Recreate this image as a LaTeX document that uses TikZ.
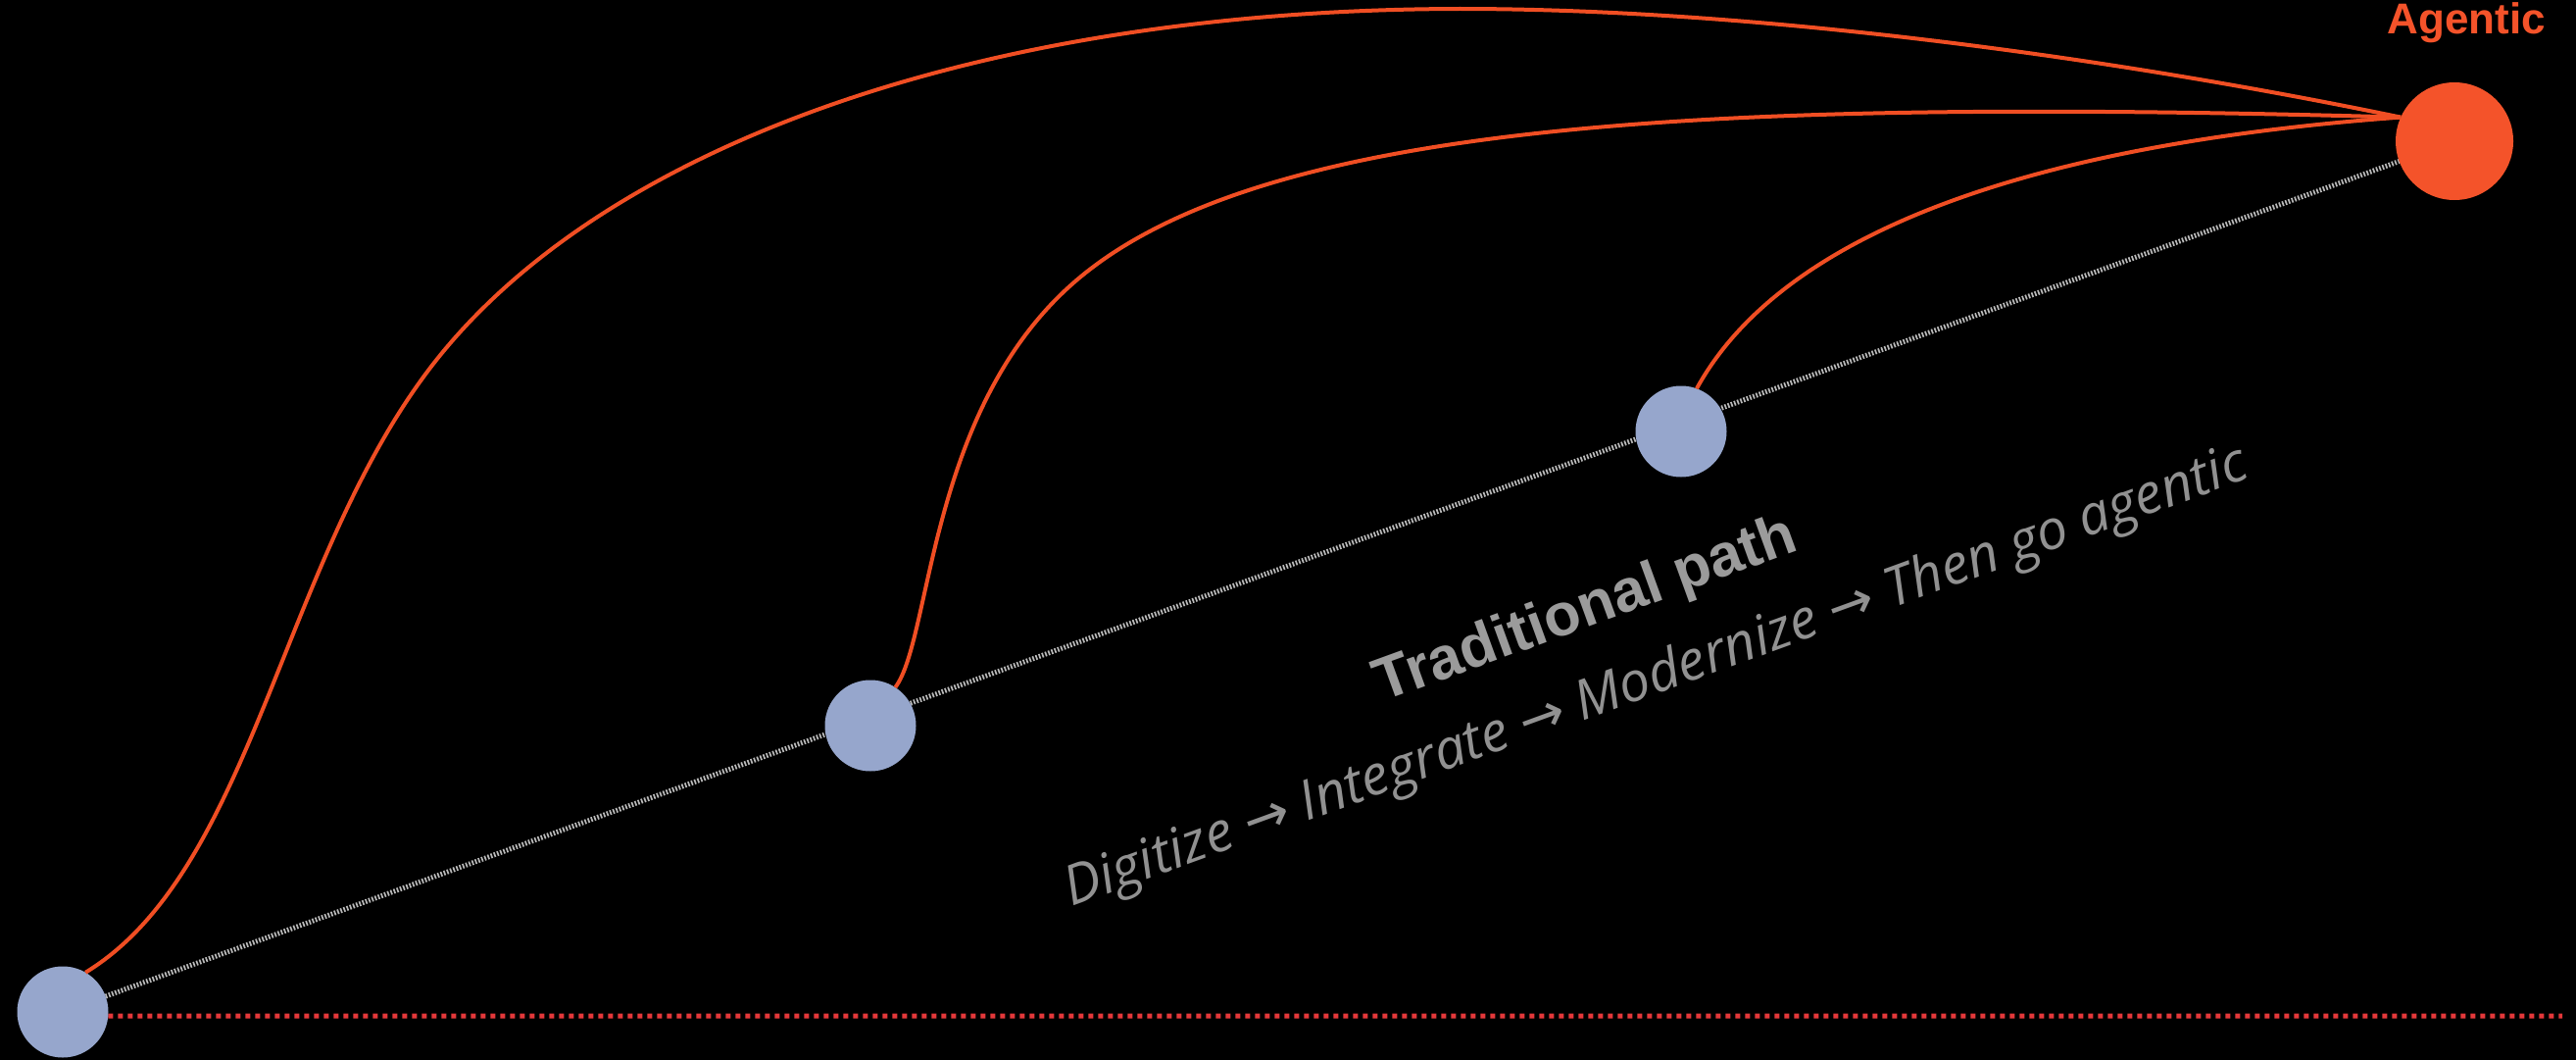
\documentclass[tikz,border=0pt]{standalone}
\usepackage{fontspec}
\setmainfont{Liberation Sans}
\newfontfamily\subf{Open Sans}
\newfontfamily\arrf{DejaVu Sans}
\pgfdeclarelayer{canvas}
\pgfdeclarelayer{back}
\pgfsetlayers{canvas,back,main}
\definecolor{dotblue}{RGB}{150,166,204}
\definecolor{agorange}{RGB}{244,83,42}
\definecolor{curveorange}{RGB}{240,78,35}
\definecolor{tradgray}{RGB}{185,185,185}
\definecolor{basered}{RGB}{228,56,58}
\definecolor{titlegray}{RGB}{155,155,155}
\definecolor{subgray}{RGB}{145,145,145}
\tikzset{
  bluedot/.style={circle, fill=dotblue, minimum size=93pt, inner sep=0pt, outer sep=0pt},
  agdot/.style={circle, fill=agorange, minimum size=120pt, inner sep=0pt, outer sep=0pt},
  leap/.style={draw=curveorange, line width=4pt},
  tradline/.style={draw=tradgray, line width=5pt, dash pattern=on 1.7pt off 1.7pt},
  baseline/.style={draw=basered, line width=5pt, dash pattern=on 5pt off 5pt},
  aglabel/.style={anchor=base, text=agorange, inner sep=0pt, font=\bfseries\fontsize{44}{50}\selectfont},
  titlelabel/.style={anchor=base west, rotate=20, text=titlegray, inner sep=0pt, font=\bfseries\fontsize{61}{66}\selectfont},
  sublabel/.style={anchor=base west, rotate=20, text=subgray, inner sep=0pt, font=\subf\itshape\fontsize{56}{62}\selectfont}
}
\begin{document}
\begin{tikzpicture}[x=1pt,y=-1pt]
\begin{pgfonlayer}{canvas}
  \fill[black] (0,0) rectangle (2628,1081);
\end{pgfonlayer}
\useasboundingbox (0,0) rectangle (2628,1081);

\node[bluedot] (c1) at (64,1032) {};
\node[bluedot] (c2) at (888,740) {};
\node[bluedot] (c3) at (1715,440) {};
\node[agdot] (ag) at (2504,144) {};
\node[aglabel] (agtext) at (2516,35) {Agentic};

\coordinate (redend) at (2614,1036);
\coordinate (k1) at (436,379);
\coordinate (k2) at (1489,9);
\coordinate (k3) at (1098,286);

\begin{pgfonlayer}{back}
  \draw[tradline] (c1) -- (ag);
  \draw[baseline] (c1.-5) -- (redend);
\end{pgfonlayer}

\draw[leap] (c1.60) .. controls (256,889) and (286,579) .. (k1)
  .. controls (604,155) and (989,10) .. (k2)
  .. controls (1789,9) and (2152,58) .. (ag.156);
\draw[leap] (c2.57) .. controls (951,651) and (946,416) .. (k3)
  .. controls (1288,123.5) and (1746,100) .. (ag.156);
\draw[leap] (c3.70) .. controls (1813,247) and (2046,149) .. (ag.156);

\node[titlelabel] (trad) at (1410,716) {Traditional path};
\node[sublabel] (steps) at (1093,925) {Digitize {\arrf\upshape →} Integrate {\arrf\upshape →} Modernize {\arrf\upshape →} Then go agentic};
\end{tikzpicture}
\end{document}
